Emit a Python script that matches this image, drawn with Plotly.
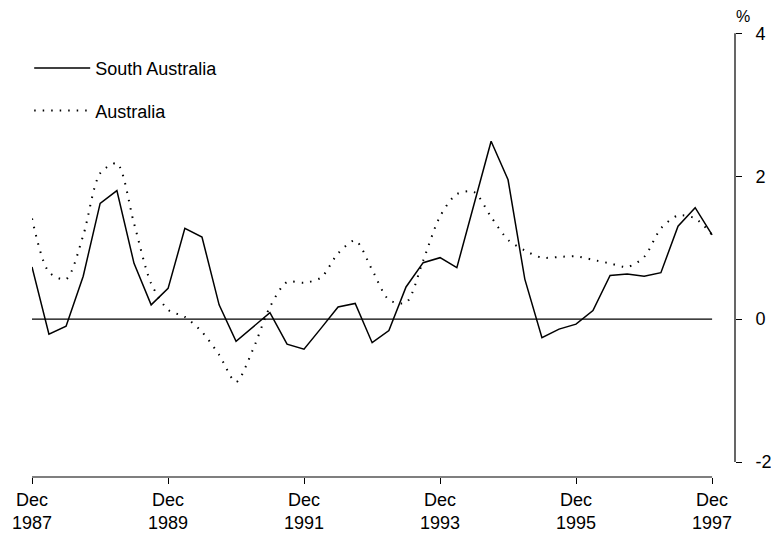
import pandas as pd
import plotly.graph_objects as go

# Quarterly data, Dec 1987 .. Dec 1997
quarters = pd.date_range("1987-12-01", periods=41, freq="3MS")

south_australia = [
    0.73, -0.21, -0.10, 0.60, 1.62, 1.80, 0.78, 0.20, 0.43, 1.27,
    1.15, 0.20, -0.31, -0.11, 0.09, -0.35, -0.42, -0.13, 0.17, 0.22,
    -0.33, -0.16, 0.45, 0.79, 0.86, 0.72, 1.61, 2.49, 1.95, 0.56,
    -0.26, -0.14, -0.07, 0.12, 0.61, 0.63, 0.60, 0.65, 1.30, 1.56,
    1.18,
]

australia = [
    1.41, 0.66, 0.56, 1.17, 2.04, 2.18, 1.34, 0.50, 0.13, 0.03,
    -0.18, -0.50, -0.88, -0.43, 0.17, 0.52, 0.51, 0.58, 0.92, 1.10,
    0.69, 0.27, 0.23, 0.82, 1.44, 1.75, 1.78, 1.43, 1.11, 0.96,
    0.86, 0.87, 0.88, 0.83, 0.78, 0.73, 0.87, 1.27, 1.45, 1.41,
    1.18,
]

tick_dates = ["1987-12-01", "1989-12-01", "1991-12-01", "1993-12-01", "1995-12-01", "1997-12-01"]
tick_labels = ["Dec<br>1987", "Dec<br>1989", "Dec<br>1991", "Dec<br>1993", "Dec<br>1995", "Dec<br>1997"]
y_ticks = [-2, 0, 2, 4]
y_tick_labels = ["-2", "0", "2", "4"]

FONT = "Liberation Sans, Arial, sans-serif"

fig = go.Figure()
fig.add_trace(go.Scatter(
    x=quarters, y=south_australia, mode="lines", name="South Australia",
    line=dict(color="black", width=1.5), legendgroup="sa",
))
fig.add_trace(go.Scatter(
    x=quarters, y=australia, mode="lines", name="Australia",
    line=dict(color="black", width=2, dash="1.5px,7px", shape="spline", smoothing=0.8),
    legendgroup="au",
))

# zero line (only spanning the data)
fig.add_shape(type="line", xref="x", yref="y",
              x0=quarters[0], x1=quarters[-1], y0=0, y1=0,
              line=dict(color="black", width=1.3))
# x axis baseline
fig.add_shape(type="line", xref="x", yref="paper",
              x0=quarters[0], x1=quarters[-1], y0=0, y1=0,
              line=dict(color="black", width=1.2))
# right y axis line from -2 to 4
fig.add_shape(type="line", xref="paper", yref="y",
              x0=1, x1=1, y0=-2, y1=4,
              line=dict(color="black", width=1.2))

fig.add_annotation(text="%", xref="paper", yref="y", x=1.0, y=4, yshift=17,
                   xanchor="center", xshift=8, showarrow=False,
                   font=dict(family=FONT, size=16, color="black"))

fig.update_layout(
    width=771, height=534,
    margin=dict(l=32, r=36, t=33, b=57, autoexpand=False),
    plot_bgcolor="white", paper_bgcolor="white",
    font=dict(family=FONT, size=18, color="black"),
    showlegend=True,
    legend=dict(
        x=-0.004, y=0.962, xanchor="left", yanchor="top",
        bgcolor="rgba(0,0,0,0)", font=dict(size=18),
        itemwidth=56, tracegroupgap=16, traceorder="grouped",
    ),
    xaxis=dict(
        range=["1987-12-01", "1998-04-03"],
        tickvals=tick_dates, ticktext=tick_labels,
        ticks="outside", ticklen=6, tickcolor="black", tickwidth=1,
        showgrid=False, zeroline=False, showline=False,
        tickfont=dict(size=18),
    ),
    yaxis=dict(
        side="right", range=[-2.21, 4.005],
        tickvals=y_ticks, ticktext=y_tick_labels,
        ticks="outside", ticklen=6, tickcolor="black", tickwidth=1,
        showgrid=False, zeroline=False, showline=False,
        tickfont=dict(size=18), ticklabelstandoff=10,
    ),
)

# remove the default page margin so the figure sits at the window's corner
fig.write_html("out.html", config={"displayModeBar": False},
               post_script="document.body.style.margin='0';")
